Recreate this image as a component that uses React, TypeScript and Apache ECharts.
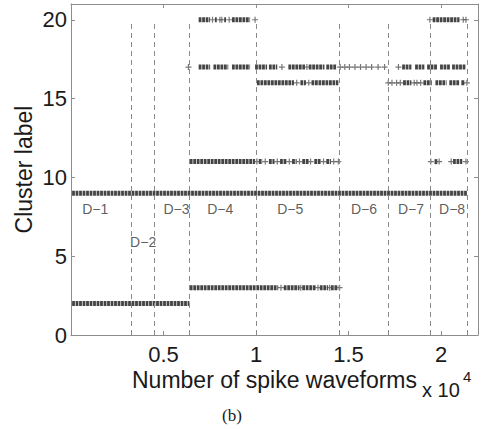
import React, { useEffect, useRef } from "react";
import * as echarts from "echarts";

// Spike index ranges (start, end) where each cluster label is densely assigned
const cluster2Runs: [number, number][] = [[60, 6400]];
const cluster3Runs: [number, number][] = [
  [6420, 11200], [11500, 12350], [12500, 13250], [13450, 13900], [14050, 14450],
];
const cluster9Runs: [number, number][] = [[60, 21400]];
const cluster11Runs: [number, number][] = [
  [6420, 9950], [10150, 10350], [10700, 11000], [11300, 11650], [11950, 12200],
  [12500, 12850], [13150, 13500], [13800, 14050], [19650, 19800], [20650, 21150],
];
const cluster16Runs: [number, number][] = [
  [10050, 12050], [12400, 12700], [13000, 14450], [17950, 18400], [19050, 19500],
  [19700, 20300], [20450, 21000], [21100, 21300],
];
const cluster17Runs: [number, number][] = [
  [6900, 7520], [7700, 8500], [8700, 9680], [9950, 10600], [10700, 11150],
  [11750, 12650], [12850, 13700], [13800, 14350], [17900, 18400], [18600, 19100],
  [19250, 19800], [19950, 20500], [20600, 21350],
];
const cluster20Runs: [number, number][] = [
  [6900, 7520], [7780, 7880], [8280, 8380], [8700, 9680], [19550, 21000],
];

// Isolated spikes
const cluster3Singles: number[] = [11350, 12420, 13350, 13980, 14520];
const cluster11Singles: number[] = [
  10050, 10500, 11150, 11800, 12350, 12950, 13650, 14200, 14450, 19450, 19900, 20550, 21350,
];
const cluster16Singles: number[] = [12200, 12850, 17150, 17350, 17600, 17800, 18550, 18700, 18900, 21400];
const cluster17Singles: number[] = [
  6350, 11400, 12750, 14550, 14800, 15050, 15350, 15650, 15950, 16250, 16600, 16950, 17700,
];
const cluster20Singles: number[] = [7650, 8050, 8150, 8550, 9950, 19400, 21200, 21350];

// Data-set boundaries and their names
const boundaries: number[] = [3250, 4480, 6400, 10000, 14480, 17130, 19430, 21400];
const segmentNames: string[] = ["D−1", "D−2", "D−3", "D−4", "D−5", "D−6", "D−7", "D−8"];
const segmentLabelX: number[] = [1310, 3900, 5700, 8065, 11850, 15840, 18380, 20600];
const segmentLabelY: number[] = [8.0, 5.9, 8.0, 8.0, 8.0, 8.0, 8.0, 8.0];

const xTicks: number[] = [5000, 10000, 15000, 20000];
const yTicks: number[] = [0, 5, 10, 15, 20];

const runsByCluster: [number, [number, number][]][] = [
  [2, cluster2Runs], [3, cluster3Runs], [9, cluster9Runs], [11, cluster11Runs],
  [16, cluster16Runs], [17, cluster17Runs], [20, cluster20Runs],
];
const singlesByCluster: [number, number[]][] = [
  [3, cluster3Singles], [11, cluster11Singles], [16, cluster16Singles],
  [17, cluster17Singles], [20, cluster20Singles],
];

const FONT = "Liberation Sans, Arial, Helvetica, sans-serif";
const FRAME = "#8c8c8c";

export default function App() {
  const ref = useRef<HTMLDivElement>(null);

  useEffect(() => {
    document.body.style.margin = "0";
    if (!ref.current) return;
    const chart = echarts.init(ref.current, undefined, { renderer: "svg" });

    const runData: number[][] = [];
    runsByCluster.forEach(([c, runs]) => runs.forEach(([s, e]) => runData.push([s, e, c])));
    const singleData: number[][] = [];
    singlesByCluster.forEach(([c, xs]) => xs.forEach((x) => singleData.push([x, c])));

    const axisCommon = {
      type: "value" as const,
      splitLine: { show: false },
      axisLine: { show: true, onZero: false, lineStyle: { color: FRAME, width: 1 } },
      axisTick: { show: true, inside: true, length: 4, lineStyle: { color: FRAME } },
    };

    chart.setOption({
      animation: false,
      backgroundColor: "#ffffff",
      grid: { left: 71, right: 4, top: 4, bottom: 94 },
      xAxis: [
        {
          ...axisCommon,
          position: "bottom",
          min: 0,
          max: 22000,
          interval: 5000,
          name: "Number of spike waveforms",
          nameLocation: "middle",
          nameGap: 35,
          nameMoveOverlap: false,
          nameTextStyle: { fontFamily: FONT, fontSize: 23, lineHeight: 20, color: "#1a1a1a" },
          axisLabel: {
            margin: 10,
            fontFamily: FONT,
            fontSize: 22,
            lineHeight: 18,
            color: "#1a1a1a",
            formatter: (v: number) => (xTicks.includes(v) ? String(v / 10000) : ""),
          },
        },
        {
          ...axisCommon,
          position: "top",
          min: 0,
          max: 22000,
          interval: 5000,
          axisLabel: { show: false },
        },
      ],
      yAxis: [
        {
          ...axisCommon,
          position: "left",
          min: 0,
          max: 21,
          interval: 5,
          name: "Cluster label",
          nameLocation: "middle",
          nameGap: 36,
          nameMoveOverlap: false,
          nameTextStyle: { fontFamily: FONT, fontSize: 23, color: "#1a1a1a" },
          axisLabel: {
            margin: 4,
            fontFamily: FONT,
            fontSize: 22,
            color: "#1a1a1a",
            formatter: (v: number) => (yTicks.includes(v) ? String(v) : ""),
          },
        },
        {
          ...axisCommon,
          position: "right",
          min: 0,
          max: 21,
          interval: 5,
          axisLabel: { show: false },
        },
      ],
      series: [
        {
          type: "scatter",
          name: "boundaries",
          data: [],
          silent: true,
          markLine: {
            silent: true,
            symbol: "none",
            label: { show: false },
            lineStyle: { type: [5, 4], color: "#8a8a8a", width: 1 },
            data: boundaries.map((b) => [{ coord: [b, 0] }, { coord: [b, 19.8] }]),
          },
        },
        {
          type: "custom",
          name: "runs",
          silent: true,
          data: runData,
          encode: { x: [0, 1], y: 2 },
          renderItem: (_params: any, api: any) => {
            const p0 = api.coord([api.value(0), api.value(2)]);
            const p1 = api.coord([api.value(1), api.value(2)]);
            return {
              type: "line",
              shape: { x1: p0[0], y1: p0[1], x2: p1[0], y2: p1[1] },
              style: { stroke: "#444444", lineWidth: 5, lineDash: [2.8, 0.7] },
            };
          },
        },
        {
          type: "scatter",
          name: "singles",
          silent: true,
          data: singleData,
          symbol: "path://M2,0H3V2H5V3H3V5H2V3H0V2H2Z",
          symbolSize: [6, 6],
          itemStyle: { color: "#555555" },
        },
        {
          type: "scatter",
          name: "segments",
          silent: true,
          symbolSize: 0,
          data: segmentNames.map((n, i) => ({ name: n, value: [segmentLabelX[i], segmentLabelY[i]] })),
          label: {
            show: true,
            position: "inside",
            formatter: "{b}",
            fontFamily: FONT,
            fontSize: 14,
            color: "#333333",
          },
        },
      ],
      graphic: [
        {
          type: "text",
          left: 422,
          top: 380,
          style: { text: "x 10", fontFamily: FONT, fontSize: 20, fill: "#1a1a1a" },
        },
        {
          type: "text",
          left: 463,
          top: 369,
          style: { text: "4", fontFamily: FONT, fontSize: 15, fill: "#1a1a1a" },
        },
        {
          type: "text",
          left: 222,
          top: 407,
          style: { text: "(b)", fontFamily: "Liberation Serif, Times New Roman, serif", fontSize: 17, fill: "#1a1a1a" },
        },
      ],
    });

    return () => chart.dispose();
  }, []);

  return <div ref={ref} style={{ width: 482, height: 429 }} />;
}
